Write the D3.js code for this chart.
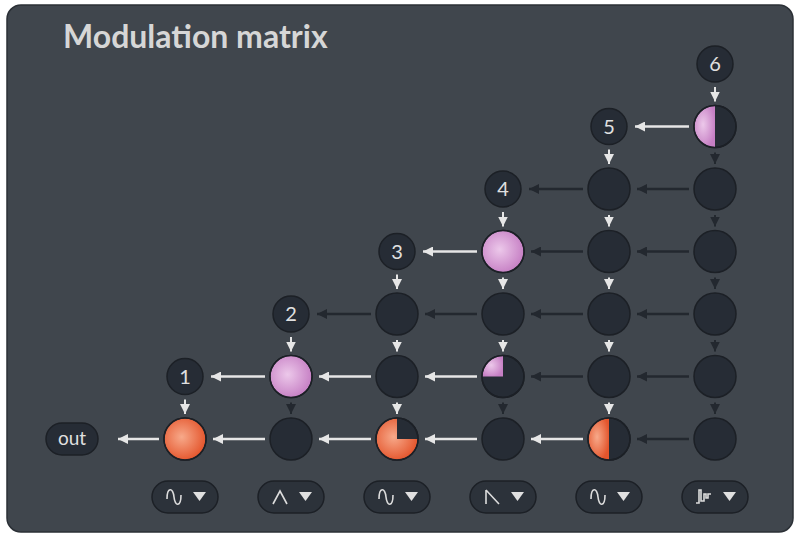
<!DOCTYPE html><html><head><meta charset="utf-8">
<script src="https://cdn.jsdelivr.net/npm/d3@7"></script>
<style>body{margin:0;background:#fff}</style></head><body>
<svg id="c" width="800" height="537"></svg>
<script>
// Data
const columns = [0,1,2,3,4,5];
const sourceLabels = ["1","2","3","4","5","6"];
// nodes: [column,row,fillFraction,colour,startAngleDeg]
const nodes = [
 [0,0,1,"orange",0],
 [1,0,0,"",0],[1,1,1,"pink",0],
 [2,0,0.75,"orange",90],[2,1,0,"",0],[2,2,0,"",0],
 [3,0,0,"",0],[3,1,0.25,"pink",270],[3,2,0,"",0],[3,3,1,"pink",0],
 [4,0,0.5,"orange",180],[4,1,0,"",0],[4,2,0,"",0],[4,3,0,"",0],[4,4,0,"",0],
 [5,0,0,"",0],[5,1,0,"",0],[5,2,0,"",0],[5,3,0,"",0],[5,4,0,"",0],[5,5,0.5,"pink",180]
];
// horizontal arrows: [fromCol,row,active]
const hArrows = [
 [0,0,1],[1,0,1],[2,0,1],[3,0,1],[4,0,1],[5,0,0],
 [1,1,1],[2,1,1],[3,1,1],[4,1,0],[5,1,0],
 [2,2,0],[3,2,0],[4,2,0],[5,2,0],
 [3,3,1],[4,3,0],[5,3,0],
 [4,4,0],[5,4,0],
 [5,5,1]
];
// vertical arrows: [col,fromRow,active]
const vArrows = [
 [0,1,1],
 [1,2,1],[1,1,0],
 [2,3,1],[2,2,1],[2,1,1],
 [3,4,1],[3,3,1],[3,2,1],[3,1,0],
 [4,5,1],[4,4,1],[4,3,1],[4,2,1],[4,1,1],
 [5,6,1],[5,5,0],[5,4,0],[5,3,0],[5,2,0],[5,1,0]
];
const waveIcons = ["sine","tri","sine","saw","sine","random"];

const svg = d3.select("#c");
const x = d3.scaleLinear().domain([-1,5]).range([79,715]);
const y = d3.scaleLinear().domain([0,6]).range([439,64]);
const R = 21, LR = 18;
const colours = {orange:["#f7a98a","#e4552c"], pink:["#ecc8ea","#c67fc4"]};
const defs = svg.append("defs");
Object.entries(colours).forEach(([k,[a,b]])=>{
  const g=defs.append("radialGradient").attr("id","g-"+k).attr("cx","42%").attr("cy","45%").attr("r","60%");
  g.append("stop").attr("offset","0%").attr("stop-color",a);
  g.append("stop").attr("offset","100%").attr("stop-color",b);
});
const light="#e6e6e6", dark="#23282f";
["l","d"].forEach(k=>{
  defs.append("marker").attr("id","m"+k).attr("viewBox","0 0 10 10").attr("refX",10).attr("refY",5)
   .attr("markerWidth",10).attr("markerHeight",10).attr("markerUnits","userSpaceOnUse").attr("orient","auto")
   .append("path").attr("d","M0,0L10,5L0,10Z").attr("fill",k=="l"?light:dark);
});

svg.append("rect").attr("x",7).attr("y",5).attr("width",786).attr("height",527).attr("rx",14)
  .attr("fill","#40464d").attr("stroke","#2b3036").attr("stroke-width",1.5);
svg.append("text").attr("x",63).attr("y",48).text("Modulation matrix")
  .attr("font-family","Lato").attr("font-weight","bold").attr("font-size",32).attr("fill","#d6d6d6");

hArrows.forEach(([c,r,a])=>{
  const x1=x(c)-R-5, tgt = (r===c)? x(c-1)+ (c===0?33:LR+2) : x(c-1)+R+1;
  svg.append("line").attr("x1",x1).attr("x2",tgt+6).attr("y1",y(r)).attr("y2",y(r))
   .attr("stroke",a?light:dark).attr("stroke-width",2.5).attr("marker-end","url(#m"+(a?"l":"d")+")");
});
vArrows.forEach(([c,r,a])=>{
  const y1=y(r)+(r===c+1?LR:R)+5, y2=y(r-1)-R-4;
  svg.append("line").attr("x1",x(c)).attr("x2",x(c)).attr("y1",y1).attr("y2",y2)
   .attr("stroke",a?light:dark).attr("stroke-width",2).attr("marker-end","url(#m"+(a?"l":"d")+")");
});

const arc=d3.arc();
nodes.forEach(([c,r,f,col,st])=>{
  const g=svg.append("g").attr("transform",`translate(${x(c)},${y(r)})`);
  g.append("circle").attr("r",R).attr("fill","#262c35").attr("stroke","#1c2026").attr("stroke-width",1.5);
  if(f>0){
    const s=st*Math.PI/180;
    if(f>=1) g.append("circle").attr("r",R-0.5).attr("fill",`url(#g-${col})`);
    else g.append("path").attr("d",arc({innerRadius:0,outerRadius:R-0.5,startAngle:s,endAngle:s+f*2*Math.PI}))
      .attr("fill",`url(#g-${col})`);
    g.append("circle").attr("r",R).attr("fill","none").attr("stroke","#1c2026").attr("stroke-width",1.5);
  }
});

sourceLabels.forEach((t,i)=>{
  const g=svg.append("g").attr("transform",`translate(${x(i)},${y(i+1)})`);
  g.append("circle").attr("r",LR).attr("fill","#262c35").attr("stroke","#1c2026").attr("stroke-width",1.5);
  g.append("text").text(t).attr("text-anchor","middle").attr("dy","0.36em").attr("font-family","Lato")
   .attr("font-size",20).attr("fill","#e0e0e0");
});
const og=svg.append("g").attr("transform",`translate(${x(-1)-7},${y(0)})`);
og.append("rect").attr("x",-26).attr("y",-16).attr("width",52).attr("height",32).attr("rx",16)
  .attr("fill","#262c35").attr("stroke","#1c2026").attr("stroke-width",1.5);
og.append("text").text("out").attr("text-anchor","middle").attr("dy","0.34em").attr("font-family","Lato")
  .attr("font-size",19).attr("fill","#e0e0e0");

const iconPaths={
 sine:"M-7,2 C-7,-10 -1,-10 0,0 C1,10 7,10 7,-2",
 tri:"M-7,7 L0,-6 L7,7",
 saw:"M-6,-7 L-6,7 M-6,-7 L7,7",
 random:"M-8,6 L-5,6 L-5,-7 L-3,-7 L-3,4 L0,4 L0,-3 L2,-3 L2,1 L4,1 L4,-3 L7,-3"
};
waveIcons.forEach((w,i)=>{
  const g=svg.append("g").attr("transform",`translate(${x(i)},497)`);
  g.append("rect").attr("x",-33).attr("y",-16).attr("width",66).attr("height",32).attr("rx",16)
   .attr("fill","#2c323a").attr("stroke","#1c2026").attr("stroke-width",1.5);
  g.append("path").attr("d",iconPaths[w]).attr("transform","translate(-11,0)").attr("fill","none")
   .attr("stroke","#dcdcdc").attr("stroke-width",1.6);
  g.append("path").attr("d","M8,-5 L21,-5 L14.5,4 Z").attr("fill","#e0e0e0");
});
</script></body></html>
